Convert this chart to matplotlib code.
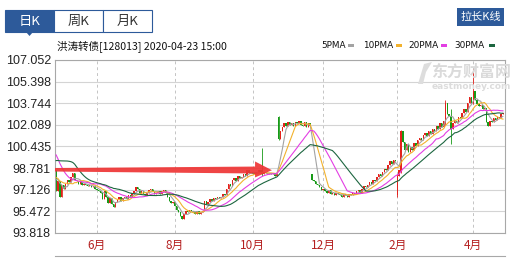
import numpy as np
import pandas as pd
import matplotlib
matplotlib.use('Agg')
import matplotlib.pyplot as plt
from matplotlib.patches import Rectangle, Polygon

W, H = 511, 258
CJK = ['Noto Sans CJK SC', 'DejaVu Sans']

# 30 sessions before the window, only used to warm up the moving averages
warmup = [97.6, 97.5, 97.4, 97.6, 97.5, 97.7, 97.9, 98.3, 99.0, 100.2,
          101.8, 103.8, 103.5, 103.0, 102.6, 102.0, 101.4, 100.6, 100.0, 99.4,
          98.9, 98.6, 98.4, 98.2, 98.0, 97.9, 97.8, 97.9, 98.2, 98.6]

closes = [
    97.0, 97.8, 96.6, 97.5, 97.2, 97.6, 97.9, 97.7, 98.1, 98.4,
    97.9, 97.8, 97.6, 97.7, 97.5, 97.6, 97.5, 97.4, 97.5, 97.3,
    97.4, 97.2, 97.1, 97.0, 96.9, 96.4, 97.0, 96.6, 96.1, 96.5,
    96.0, 95.8, 96.2, 96.4, 96.6, 96.3, 96.5, 96.6, 96.4, 96.7,
    96.6, 96.9, 97.0, 97.3, 97.2, 96.9, 97.0, 96.8, 96.7, 96.9,
    97.1, 97.2, 97.0, 96.8, 96.9, 97.0, 96.8, 97.0, 97.1, 96.9,
    96.6, 96.3, 96.1, 96.2, 95.9, 95.6, 95.4, 95.1, 94.9, 95.3,
    95.5, 95.4, 95.6, 95.5, 95.4, 95.3, 95.5, 95.3, 95.4, 95.5,
    96.3, 96.0, 96.2, 96.4, 96.3, 96.5, 96.4, 96.6, 96.5, 96.6,
    96.8, 96.7, 97.2, 97.6, 97.4, 97.9, 98.0, 97.8, 98.2, 98.0,
    98.1, 98.3, 98.2, 98.6, 98.4, 98.5, 98.3, 98.5, 98.4, 98.6,
    98.4, 98.3, 98.5, 98.4, 98.3, 98.4, 98.3, 98.4, 98.2, 98.4,
    101.0, 101.6, 101.9, 102.2, 102.0, 102.3, 102.1, 102.2, 102.0, 102.3,
    102.2, 102.4, 102.1, 102.0, 102.3, 101.9, 102.2, 102.0,
    97.9, 97.8,
    97.6, 97.5, 97.3, 97.1, 97.2, 97.0, 96.9, 97.1, 96.8, 96.9,
    96.7, 96.9, 96.8, 96.7, 96.6, 96.8, 96.7, 96.6, 96.8, 96.7,
    96.9, 96.8, 97.0, 97.1, 96.9, 97.2, 97.4, 97.3, 97.5, 97.7,
    97.6, 97.9, 97.8, 98.1, 98.3, 98.2, 98.5, 98.7, 98.6, 99.0,
    99.3, 99.1, 99.4, 99.3,
    98.2, 98.6, 101.6, 100.8, 100.2, 100.6,
    100.0, 100.4, 100.2, 100.7, 100.5, 100.9, 101.1, 100.9, 101.3, 101.5,
    101.2, 101.6, 101.4, 101.8, 101.6, 102.0, 101.8, 102.2, 101.9, 102.4,
    103.8, 102.9, 102.8, 101.8, 102.2, 102.4, 102.2, 102.7, 102.6, 103.0,
    103.3, 103.1, 103.8, 104.2, 103.8, 104.7, 104.0, 103.7, 103.5, 103.6,
    103.3, 103.4, 102.3, 102.0, 102.4, 102.3, 102.6, 102.5, 102.7, 102.6,
    102.9, 103.0,
]

# sessions that did not open at the previous close
open_gaps = {111: 98.6, 120: 102.7, 138: 98.3, 184: 96.7, 186: 98.5}
# long shadows (low, high)
wicks = {111: (98.2, 100.3), 120: (100.9, 102.8), 184: (96.6, 98.3),
         186: (98.4, 101.7), 210: (102.1, 104.0), 213: (100.6, 103.3),
         225: (103.7, 106.4)}

ma_periods = [5, 10, 20, 30]
ma_names = ['5PMA', '10PMA', '20PMA', '30PMA']
ma_colors = ['#a3a3a3', '#f2b22e', '#e33ee3', '#1d6640']

month_pos = [22, 64, 106, 144, 184, 225]
month_labels = ['6月', '8月', '10月', '12月', '2月', '4月']
price_ticks = [93.818, 95.472, 97.126, 98.781, 100.435, 102.089, 103.744, 105.398, 107.052]

closes = np.array(closes)
idx = np.arange(len(closes))
opens = np.r_[warmup[-1], closes[:-1]]
for k, v in open_gaps.items():
    opens[k] = v
lows = np.minimum(opens, closes)
highs = np.maximum(opens, closes)
for k, (lo, hi) in wicks.items():
    lows[k], highs[k] = lo, hi

full = pd.Series(np.r_[warmup, closes])
mas = [full.rolling(n).mean().to_numpy()[len(warmup):] for n in ma_periods]

fig = plt.figure(figsize=(W / 100, H / 100), dpi=100)
fig.patch.set_facecolor('white')


def fx(x):
    return x / W


def fy(y):
    return 1 - y / H


ax = fig.add_axes([fx(55), fy(233), fx(450), 173 / H])
ax.set_xlim(-0.6, 242.1)
ax.set_ylim(price_ticks[0], price_ticks[-1])

up = closes >= opens
col = np.where(up, '#e3221c', '#179a17')
body = np.maximum(np.abs(closes - opens), 0.05)
ax.vlines(idx, lows, highs, colors=col, lw=0.6, zorder=2)
ax.bar(idx, body, bottom=np.minimum(opens, closes), width=0.75, color=col,
       linewidth=0, zorder=2)

for m, c in zip(mas, ma_colors):
    ax.plot(idx, m, color=c, lw=0.8, zorder=3)

# red arrow pointing at the October jump
arrow = Polygon([(-0.6, 98.79), (107.3, 98.90), (107.3, 99.29), (116.4, 98.62),
                 (107.3, 98.07), (107.3, 98.37), (-0.6, 98.52)],
                closed=True, fc='#ee3535', ec='none', alpha=0.92, zorder=4)
ax.add_patch(arrow)

ax.set_yticks(price_ticks)
ax.set_yticklabels(['%.3f' % t for t in price_ticks], fontsize=9,
                   family='Liberation Sans', color='#222222')
ax.set_xticks(month_pos)
ax.set_xticklabels(month_labels, fontsize=8.5, family=CJK, color='#b52020')
ax.tick_params(length=0, pad=3)
ax.tick_params(axis='x', pad=4)
ax.grid(axis='y', color='#d4d4d4', lw=0.8)
ax.grid(axis='x', color='#c4c4c4', lw=0.7, ls=(0, (3, 3)))
ax.set_axisbelow(True)
for s in ax.spines.values():
    s.set_color('#a8a8a8')
    s.set_linewidth(0.8)

# watermark
fig.text(fx(471), fy(72), '东方财富网', family=CJK, fontsize=11.5, weight='bold',
         color='#dadada', ha='center', va='center')
fig.text(fx(471), fy(87), 'eastmoney.com', fontsize=6.5, weight='bold',
         color='#dcdcdc', ha='center', va='center')
fig.add_artist(Polygon([(fx(418), fy(84)), (fx(424), fy(64)), (fx(432), fy(62)),
                        (fx(426), fy(72)), (fx(423), fy(84))],
                       closed=True, transform=fig.transFigure, fc='#dddddd', ec='none'))

# title and legend row
fig.text(fx(57), fy(46), '洪涛转债[128013] 2020-04-23 15:00', family=CJK,
         fontsize=7.6, color='#111111', ha='left', va='center')
leg_x = [321, 363, 408, 454]
sw_x = [348, 396, 441, 489]
for name, c, tx, sx in zip(ma_names, ma_colors, leg_x, sw_x):
    fig.text(fx(tx), fy(46), name, fontsize=6.4, family='DejaVu Sans',
             color='#111111', ha='left', va='center')
    fig.add_artist(Rectangle((fx(sx), fy(47)), fx(6), 3 / H,
                             transform=fig.transFigure, fc=c, ec='none'))

# period tabs
blue = '#2d5a9a'
tabs = ['日K', '周K', '月K']
for k, t in enumerate(tabs):
    x0 = 5 + 49 * k
    sel = k == 0
    fig.add_artist(Rectangle((fx(x0), fy(32)), fx(49), 22 / H, transform=fig.transFigure,
                             fc=blue if sel else 'white', ec=blue, lw=0.8))
    fig.text(fx(x0 + 24.5), fy(21), t, family=CJK, fontsize=9.5,
             color='white' if sel else '#333333', ha='center', va='center')
fig.add_artist(Polygon([(fx(26), fy(32)), (fx(33), fy(32)), (fx(29.5), fy(36))],
                       closed=True, transform=fig.transFigure, fc=blue, ec='none'))

fig.add_artist(Rectangle((fx(457), fy(26)), fx(47), 18 / H, transform=fig.transFigure,
                         fc=blue, ec='none'))
fig.text(fx(480.5), fy(17), '拉长K线', family=CJK, fontsize=8, color='white',
         ha='center', va='center')

# top edge of the panel below
fig.add_artist(plt.Line2D([fx(55), fx(505)], [fy(256), fy(256)],
                          transform=fig.transFigure, color='#a8a8a8', lw=0.8))

fig.savefig('out.png', dpi=100)
